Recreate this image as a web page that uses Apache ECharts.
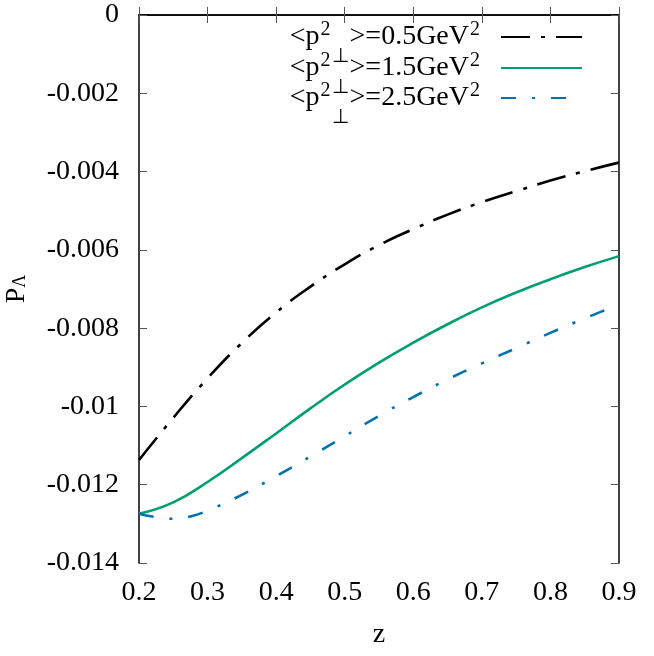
<!DOCTYPE html>
<html>
<head>
<meta charset="utf-8">
<script src="https://cdn.jsdelivr.net/npm/echarts@6/dist/echarts.min.js"></script>
<style>
  html, body { margin: 0; padding: 0; background: #fff; }
  #chart { width: 654px; height: 656px; }
</style>
</head>
<body>
<div id="chart"></div>
<script>
// z grid for the first two curves
const zValues = [0.2, 0.25, 0.3, 0.35, 0.4, 0.45, 0.5, 0.55, 0.6, 0.65, 0.7, 0.75, 0.8, 0.85, 0.9];
// <p2perp> = 0.5 GeV^2
const pLow = [-0.01137, -0.01029, -0.00928, -0.00838, -0.00760, -0.00694, -0.00637, -0.00588,
  -0.00547, -0.00510, -0.00478, -0.00450, -0.00423, -0.00399, -0.00377];
// <p2perp> = 1.5 GeV^2
const pMid = [-0.01274, -0.01245, -0.01193, -0.01132, -0.01069, -0.01005, -0.00944, -0.00888,
  -0.00837, -0.00790, -0.00747, -0.00709, -0.00675, -0.00644, -0.00616];
// <p2perp> = 2.5 GeV^2 (a few extra points near the dip)
const zHigh = [0.2, 0.225, 0.25, 0.275, 0.3, 0.35, 0.4, 0.45, 0.5, 0.55, 0.6, 0.65, 0.7, 0.75, 0.8, 0.85, 0.9];
const pHigh = [-0.01274, -0.01283, -0.01287, -0.01281, -0.01266, -0.01226, -0.01178, -0.01128,
  -0.01076, -0.01024, -0.00976, -0.00931, -0.00890, -0.00851, -0.00812, -0.00775, -0.00740];

const legendLabels = ['0.5', '1.5', '2.5'];
const xTicks = { min: 0.2, max: 0.9, step: 0.1 };
const yTicks = { min: -0.014, max: 0, step: 0.002 };

const font = 'Liberation Serif';

function pairs(xs, ys) {
  return xs.map((x, i) => [x, ys[i]]);
}

// one legend box per row, so the rows can sit closer than the tall rich-text lines
function legendRow(name, top) {
  return {
    data: [name],
    orient: 'vertical',
    right: 71,
    top: top,
    padding: 0,
    align: 'right',
    itemWidth: 81,
    itemHeight: 12,
    selectedMode: false,
    itemStyle: { opacity: 0 },
    formatter: n => '{m|<p}{a|2}{b|⊥}{m|>=' + n + 'GeV}{a|2}',
    textStyle: {
      fontFamily: font,
      color: '#000',
      padding: [0, 15, 0, 0],
      rich: {
        m: { fontFamily: font, fontSize: 28, color: '#000', lineHeight: 46, verticalAlign: 'middle' },
        a: { fontFamily: font, fontSize: 20, color: '#000', lineHeight: 20,
          verticalAlign: 'middle', padding: [0, 1, 14, 1] },
        b: { fontFamily: font, fontSize: 20, color: '#000', lineHeight: 2,
          verticalAlign: 'top', padding: [33, 1, 0, 0] }
      }
    }
  };
}

const chart = echarts.init(document.getElementById('chart'));

const option = {
  backgroundColor: '#fff',
  animation: false,
  grid: { left: 139, top: 15, right: 35, bottom: 93, containLabel: false, outerBoundsMode: 'none' },
  legend: [legendRow(legendLabels[0], 14), legendRow(legendLabels[1], 45), legendRow(legendLabels[2], 75)],
  xAxis: [{
    type: 'value',
    min: xTicks.min, max: xTicks.max, interval: xTicks.step,
    name: 'z', nameLocation: 'middle', nameGap: 58,
    nameTextStyle: { fontFamily: font, fontSize: 28, color: '#000' },
    axisLine: { lineStyle: { color: '#000', width: 1.5 } },
    axisTick: { inside: true, length: 8, lineStyle: { color: '#555' } },
    axisLabel: { fontFamily: font, fontSize: 28, color: '#000', margin: 16,
      formatter: v => String(parseFloat(v.toFixed(1))) },
    splitLine: { show: false }
  }, {
    type: 'value', position: 'top',
    min: xTicks.min, max: xTicks.max, interval: xTicks.step,
    axisLine: { lineStyle: { color: '#000', width: 1.5 } },
    axisTick: { inside: true, length: 8, lineStyle: { color: '#555' } },
    axisLabel: { show: false },
    splitLine: { show: false }
  }],
  yAxis: [{
    type: 'value',
    min: yTicks.min, max: yTicks.max, interval: yTicks.step,
    name: 'P{s|Λ}', nameLocation: 'middle', nameGap: 107, nameRotate: 90,
    nameTextStyle: {
      fontFamily: font, fontSize: 28, color: '#000', lineHeight: 30,
      rich: { s: { fontFamily: font, fontSize: 18, color: '#000', lineHeight: 18,
        verticalAlign: 'middle', padding: [6, 0, 0, 0] } }
    },
    axisLine: { lineStyle: { color: '#000', width: 1.5 } },
    axisTick: { inside: true, length: 8, lineStyle: { color: '#555' } },
    axisLabel: { fontFamily: font, fontSize: 28, color: '#000', margin: 20,
      formatter: v => String(parseFloat(v.toFixed(3))) },
    splitLine: { show: false }
  }, {
    type: 'value', position: 'right',
    min: yTicks.min, max: yTicks.max, interval: yTicks.step,
    axisLine: { lineStyle: { color: '#000', width: 1.5 } },
    axisTick: { inside: true, length: 8, lineStyle: { color: '#555' } },
    axisLabel: { show: false },
    splitLine: { show: false }
  }],
  series: [{
    name: legendLabels[0],
    type: 'line', showSymbol: false, symbol: 'none', smooth: true,
    data: pairs(zValues, pLow),
    lineStyle: { color: '#000', width: 2.6, type: [29, 11, 4, 11] },
    itemStyle: { color: '#000' }
  }, {
    name: legendLabels[1],
    type: 'line', showSymbol: false, symbol: 'none', smooth: true,
    data: pairs(zValues, pMid),
    lineStyle: { color: '#009e73', width: 2.6 },
    itemStyle: { color: '#009e73' }
  }, {
    name: legendLabels[2],
    type: 'line', showSymbol: false, symbol: 'none', smooth: true,
    data: pairs(zHigh, pHigh),
    lineStyle: { color: '#0072b2', width: 2.6, type: [15, 16, 3, 16] },
    itemStyle: { color: '#0072b2' }
  }]
};

chart.setOption(option);
</script>
</body>
</html>
